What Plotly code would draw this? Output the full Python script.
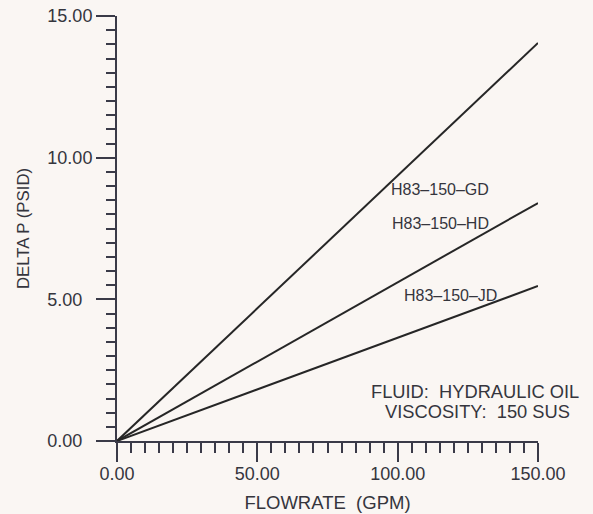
import plotly.graph_objects as go

# Data
flow = [0, 150]
series_names = ["H83–150–GD", "H83–150–HD", "H83–150–JD"]
dp_gd = [0, 14.05]
dp_hd = [0, 8.40]
dp_jd = [0, 5.47]

x_tickvals = [0, 50, 100, 150]
x_ticktext = ["0.00", "50.00", "100.00", "150.00"]
y_tickvals = [0, 5, 10, 15]
y_ticktext = ["0.00\u00a0\u00a0", "5.00\u00a0\u00a0", "10.00", "15.00"]

FONT = "Liberation Sans, Arial, Helvetica, sans-serif"
TXT = "#35353d"
LINE = "#262626"
AX = "#3a3a48"
BG = "#faf6f3"

fig = go.Figure()
for vals in (dp_gd, dp_hd, dp_jd):
    fig.add_trace(go.Scatter(x=flow, y=vals, mode="lines",
                             line=dict(color=LINE, width=2), showlegend=False,
                             hoverinfo="skip"))

label_pos = [(115.1, 8.86), (115.1, 7.66), (118.8, 5.15)]
for name, (lx, ly) in zip(series_names, label_pos):
    fig.add_annotation(x=lx, y=ly, text=name, showarrow=False,
                       xanchor="center", yanchor="middle",
                       font=dict(family=FONT, size=16, color=TXT))

fig.add_annotation(x=127.6, y=1.74, text="FLUID:\u00a0 HYDRAULIC OIL", showarrow=False,
                   xanchor="center", yanchor="middle",
                   font=dict(family=FONT, size=18.3, color=TXT))
fig.add_annotation(x=128.4, y=1.03, text="VISCOSITY:\u00a0 150 SUS", showarrow=False,
                   xanchor="center", yanchor="middle",
                   font=dict(family=FONT, size=18.3, color=TXT))

fig.update_layout(
    width=593, height=514,
    margin=dict(l=117, r=55, t=16, b=73),
    paper_bgcolor=BG, plot_bgcolor=BG,
    font=dict(family=FONT, color=TXT),
    xaxis=dict(range=[0, 150], showgrid=False, zeroline=False,
               showline=True, linecolor=AX, linewidth=2,
               ticks="outside", ticklen=19, tickwidth=2, tickcolor=AX,
               tickvals=x_tickvals, ticktext=x_ticktext,
               ticklabelstandoff=-4,
               tickfont=dict(family=FONT, size=18, color=TXT),
               minor=dict(dtick=5, ticks="outside", ticklen=10, tickwidth=2, tickcolor=AX),
               title=dict(text="FLOWRATE\u00a0 (GPM)", font=dict(family=FONT, size=18.5, color=TXT),
                          standoff=13),
               automargin=False),
    yaxis=dict(range=[0, 15], showgrid=False, zeroline=False,
               showline=True, linecolor=AX, linewidth=2,
               ticks="outside", ticklen=19, tickwidth=2, tickcolor=AX,
               tickvals=y_tickvals, ticktext=y_ticktext,
               tickfont=dict(family=FONT, size=18, color=TXT),
               minor=dict(dtick=0.5, ticks="outside", ticklen=9, tickwidth=2, tickcolor=AX),
               title=dict(text="DELTA P (PSID)", font=dict(family=FONT, size=16.8, color=TXT),
                          standoff=13),
               automargin=False),
)

fig.write_html("out.html")
